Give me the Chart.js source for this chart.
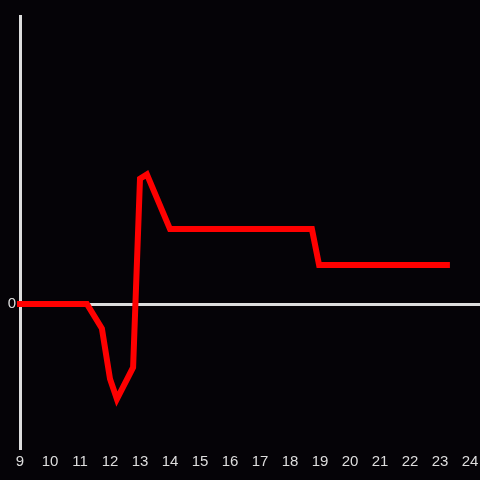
<!DOCTYPE html>
<html>
<head>
    <script src="https://cdn.jsdelivr.net/npm/chart.js"></script>
    <style>
        html, body {
            margin: 0;
            padding: 0;
            background: #050307;
        }
        #wrap {
            width: 480px;
            height: 480px;
        }
    </style>
</head>
<body>
    <div id="wrap"><canvas id="chart"></canvas></div>
    <script>
        // hour of day and value
        const hours = [9, 11.23, 11.73, 12.0, 12.23, 12.77, 13.0, 13.23, 14.0, 18.73, 18.97, 23.23];
        const values = [0, 0, -0.17, -0.52, -0.66, -0.44, 0.87, 0.9, 0.52, 0.52, 0.27, 0.27];
        const xTicks = [9, 10, 11, 12, 13, 14, 15, 16, 17, 18, 19, 20, 21, 22, 23, 24];
        const yTicks = [0];

        const ctx = document.getElementById('chart').getContext('2d');
        new Chart(ctx, {
            type: 'line',
            data: {
                datasets: [{
                    data: hours.map((h, i) => ({ x: h, y: values[i] })),
                    borderColor: '#ff0000',
                    borderWidth: 6,
                    borderCapStyle: 'square',
                    pointRadius: 0,
                    tension: 0,
                    fill: false,
                    clip: false
                }]
            },
            options: {
                responsive: true,
                maintainAspectRatio: false,
                animation: false,
                layout: { padding: { top: 16, right: 0, left: 0, bottom: 0 } },
                plugins: { legend: { display: false }, tooltip: { enabled: false } },
                scales: {
                    x: {
                        type: 'linear',
                        min: 9,
                        max: 24.333,
                        afterBuildTicks: axis => { axis.ticks = xTicks.map(v => ({ value: v })); },
                        afterFit: axis => {
                            axis.height = 32;
                            axis.paddingLeft = 0;
                            axis.paddingRight = 0;
                        },
                        grid: { display: false },
                        border: { display: false },
                        ticks: {
                            color: '#dddddd',
                            font: { family: 'Liberation Sans', size: 15 },
                            padding: -3,
                            maxRotation: 0,
                            autoSkip: false
                        }
                    },
                    y: {
                        min: -1,
                        max: 2,
                        afterBuildTicks: axis => { axis.ticks = yTicks.map(v => ({ value: v })); },
                        afterFit: axis => { axis.width = 20; },
                        grid: {
                            drawTicks: false,
                            color: c => c.tick && c.tick.value === 0 ? '#dddddd' : 'rgba(0,0,0,0)',
                            lineWidth: 3
                        },
                        border: { display: true, color: '#dddddd', width: 3 },
                        ticks: {
                            color: '#dddddd',
                            font: { family: 'Liberation Sans', size: 15 },
                            padding: 4
                        }
                    }
                }
            }
        });
    </script>
</body>
</html>
